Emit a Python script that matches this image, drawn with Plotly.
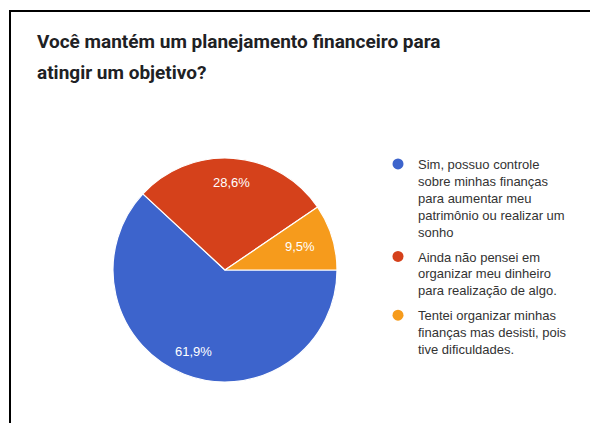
import math
import plotly.graph_objects as go

W, H = 590, 423

# Survey answers and their shares (%)
answers = [
    "Sim, possuo controle<br>sobre minhas finanças<br>para aumentar meu<br>patrimônio ou realizar um<br>sonho",
    "Ainda não pensei em<br>organizar meu dinheiro<br>para realização de algo.",
    "Tentei organizar minhas<br>finanças mas desisti, pois<br>tive dificuldades.",
]
shares = [61.9, 28.6, 9.5]
colors = ["#3d64cc", "#d5411b", "#f69b1c"]

title_lines = [
    "Você mantém um planejamento financeiro para",
    "atingir um objetivo?",
]


def px_x(v):
    return v / W


def px_y(v):
    return 1 - v / H


fig = go.Figure()

cx, cy, r = 225, 270, 112
start_deg = 90  # first slice starts at 3 o'clock, running clockwise
fig.add_trace(go.Pie(
    labels=answers,
    values=shares,
    sort=False,
    direction="clockwise",
    rotation=start_deg,
    marker=dict(colors=colors, line=dict(color="white", width=1.2)),
    textinfo="none",
    domain=dict(x=[px_x(cx - r), px_x(cx + r)], y=[px_y(cy + r), px_y(cy - r)]),
    showlegend=False,
    hoverinfo="label+percent",
))

# Percentage labels at each slice's mid-angle
total = sum(shares)
acc = 0.0
for v in shares:
    mid = (acc + v / 2) / total * 360.0  # degrees clockwise from 3 o'clock
    acc += v
    frac = 0.78 if v / total > 0.15 else 0.70
    lx = cx + frac * r * math.cos(math.radians(mid))
    ly = cy + frac * r * math.sin(math.radians(mid))
    fig.add_annotation(
        text=f"{v:.1f}%".replace(".", ","), xref="paper", yref="paper",
        x=px_x(lx), y=px_y(ly), xanchor="center", yanchor="middle",
        showarrow=False,
        font=dict(family="Liberation Sans, Arial", size=13, color="white"),
    )

# Legend entries with round symbols
for i, (lab, col) in enumerate(zip(answers, colors)):
    fig.add_trace(go.Scatter(
        x=[None], y=[None], mode="markers", name=lab,
        marker=dict(symbol="circle", size=11, color=col),
        legendgroup=f"g{i}", showlegend=True,
    ))

for i, line in enumerate(title_lines):
    fig.add_annotation(
        text=line, xref="paper", yref="paper",
        x=px_x(35), y=px_y(41 + 31 * i),
        xanchor="left", yanchor="middle", showarrow=False,
        font=dict(family="Roboto", size=19, color="#202124", weight="bold"),
    )

# Frame around the card
fig.add_shape(
    type="rect", xref="paper", yref="paper",
    x0=px_x(10), x1=px_x(W + 10), y0=px_y(H + 10), y1=px_y(11),
    line=dict(color="black", width=2), fillcolor="rgba(0,0,0,0)",
)

fig.update_layout(
    width=W, height=H,
    margin=dict(l=0, r=0, t=0, b=0),
    paper_bgcolor="white", plot_bgcolor="white",
    xaxis=dict(visible=False), yaxis=dict(visible=False),
    legend=dict(
        x=px_x(378), y=px_y(149), xanchor="left", yanchor="top",
        valign="top", tracegroupgap=5,
        font=dict(family="Liberation Sans, Arial", size=13, color="#333333"),
        bgcolor="rgba(0,0,0,0)",
    ),
)

fig.write_html("out.html")
